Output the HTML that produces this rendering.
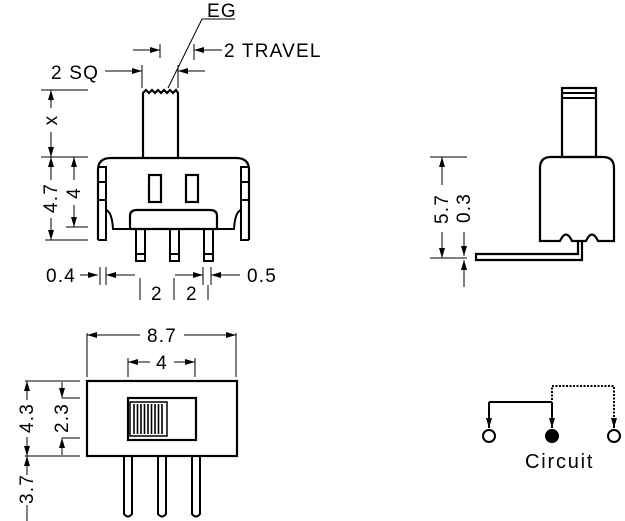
<!DOCTYPE html>
<html><head><meta charset="utf-8"><style>
html,body{margin:0;padding:0;background:#fff;}
svg{display:block;}
text{font-family:"Liberation Sans",sans-serif;fill:#000;}
</style></head><body>
<svg width="625" height="521" viewBox="0 0 625 521" xmlns="http://www.w3.org/2000/svg">
<defs>
<marker id="a" viewBox="0 0 10 6" refX="10" refY="3" markerWidth="10" markerHeight="6" orient="auto" markerUnits="userSpaceOnUse"><path d="M0,0 L10,3 L0,6 z" fill="#000"/></marker>
</defs>
<g stroke="#000" fill="none">
<path d="M235,19 H202 L168,88" stroke-width="1"/>
<g stroke-width="1">
<line x1="133" y1="50" x2="160" y2="50" marker-end="url(#a)"/>
<line x1="160" y1="44" x2="160" y2="58"/>
<line x1="194" y1="44" x2="194" y2="60"/>
<line x1="222" y1="50" x2="194" y2="50" marker-end="url(#a)"/>
<line x1="105" y1="71" x2="142" y2="71" marker-end="url(#a)"/>
<line x1="142" y1="65" x2="142" y2="88"/>
<line x1="178" y1="65" x2="178" y2="88"/>
<line x1="205" y1="71" x2="178" y2="71" marker-end="url(#a)"/>
</g>
<path d="M143,157 V93 L146,90 L149,93 L152,90 L155,93 L158,90 L161,93 L164,90 L167,93 L170,90 L173,93 L176,90 L178,93 V157" stroke-width="2.2"/>
<path d="M98,240 V170 Q98,158 111,158 H236 Q249,158 249,170 V240" stroke-width="2.2"/>
<path d="M98,240 H106 V167 H98 M106,182 H98 M106,200 H98" stroke-width="2"/>
<path d="M249,240 H241 V167 H249 M241,182 H249 M241,200 H249" stroke-width="2"/>
<path d="M106,210 Q112,212 113,229 H130 M241,210 Q235,212 234,229 H217" stroke-width="2"/>
<path d="M130,229 V216 Q130,210 137,210 H210 Q217,210 217,216 V229 Z" stroke-width="2.2"/>
<rect x="149" y="175" width="12" height="27" stroke-width="2.2"/>
<rect x="186" y="175" width="12" height="27" stroke-width="2.2"/>
<g stroke-width="2">
<rect x="136" y="229" width="9" height="32"/><line x1="136" y1="254" x2="145" y2="254"/>
<rect x="170" y="229" width="9" height="32"/><line x1="170" y1="254" x2="179" y2="254"/>
<rect x="204" y="229" width="9" height="32"/><line x1="204" y1="254" x2="213" y2="254"/>
</g>
<g stroke-width="1">
<line x1="41" y1="90" x2="88" y2="90"/>
<line x1="41" y1="157" x2="88" y2="157"/>
<line x1="45" y1="240" x2="88" y2="240"/>
<line x1="66" y1="227" x2="88" y2="227"/>
<line x1="51" y1="108" x2="51" y2="90" marker-end="url(#a)"/>
<line x1="51" y1="132" x2="51" y2="157" marker-end="url(#a)"/>
<line x1="51" y1="180" x2="51" y2="157" marker-end="url(#a)"/>
<line x1="51" y1="218" x2="51" y2="240" marker-end="url(#a)"/>
<line x1="74" y1="180" x2="74" y2="157" marker-end="url(#a)"/>
<line x1="74" y1="205" x2="74" y2="227" marker-end="url(#a)"/>
<line x1="80" y1="275" x2="98" y2="275" marker-end="url(#a)"/>
<line x1="100" y1="267" x2="100" y2="285"/>
<line x1="106" y1="267" x2="106" y2="285"/>
<line x1="135" y1="275" x2="106" y2="275" marker-end="url(#a)"/>
<line x1="175" y1="275" x2="203" y2="275" marker-end="url(#a)"/>
<line x1="203" y1="267" x2="203" y2="285"/>
<line x1="211" y1="267" x2="211" y2="285"/>
<line x1="240" y1="275" x2="211" y2="275" marker-end="url(#a)"/>
<line x1="140" y1="278" x2="140" y2="300"/>
<line x1="174" y1="278" x2="174" y2="300"/>
<line x1="208" y1="285" x2="208" y2="300"/>
</g>
<g stroke-width="1">
<line x1="87" y1="333" x2="87" y2="377"/>
<line x1="236" y1="333" x2="236" y2="377"/>
<line x1="140" y1="335" x2="87" y2="335" marker-end="url(#a)"/>
<line x1="184" y1="335" x2="236" y2="335" marker-end="url(#a)"/>
<line x1="128" y1="358" x2="128" y2="377"/>
<line x1="195" y1="358" x2="195" y2="377"/>
<line x1="150" y1="362" x2="128" y2="362" marker-end="url(#a)"/>
<line x1="174" y1="362" x2="195" y2="362" marker-end="url(#a)"/>
<line x1="25" y1="381" x2="80" y2="381"/>
<line x1="25" y1="456" x2="80" y2="456"/>
<line x1="62" y1="398" x2="80" y2="398"/>
<line x1="62" y1="438" x2="80" y2="438"/>
<line x1="27" y1="400" x2="27" y2="381" marker-end="url(#a)"/>
<line x1="27" y1="437" x2="27" y2="456" marker-end="url(#a)"/>
<line x1="62" y1="382" x2="62" y2="398" marker-end="url(#a)"/>
<line x1="62" y1="455" x2="62" y2="438" marker-end="url(#a)"/>
<line x1="27" y1="475" x2="27" y2="456" marker-end="url(#a)"/>
<line x1="27" y1="505" x2="27" y2="521"/>
</g>
<rect x="87" y="381" width="150" height="75" stroke-width="2.2"/>
<rect x="128" y="398" width="68" height="42" stroke-width="2.2"/>
<rect x="130" y="402" width="37" height="34" stroke-width="1.5"/>
<g stroke-width="1.6">
<line x1="134" y1="404" x2="134" y2="434"/><line x1="137.5" y1="404" x2="137.5" y2="434"/><line x1="141" y1="404" x2="141" y2="434"/><line x1="144.5" y1="404" x2="144.5" y2="434"/><line x1="148" y1="404" x2="148" y2="434"/><line x1="151.5" y1="404" x2="151.5" y2="434"/><line x1="155" y1="404" x2="155" y2="434"/><line x1="158.5" y1="404" x2="158.5" y2="434"/><line x1="162" y1="404" x2="162" y2="434"/>
</g>
<g stroke-width="2">
<path d="M124,456 V514 Q128,519 132,514 V456"/>
<path d="M158,456 V514 Q162,519 166,514 V456"/>
<path d="M192,456 V514 Q196,519 200,514 V456"/>
</g>
<rect x="562" y="88" width="34" height="69" stroke-width="2.2"/>
<line x1="562" y1="93" x2="596" y2="93" stroke-width="2"/>
<line x1="562" y1="98" x2="596" y2="98" stroke-width="2"/>
<path d="M540,241 V168 Q540,157 551,157 H603 Q614,157 614,168 V241 H598 Q592,228 586,241 H572 Q566,228 560,241 Z" stroke-width="2.2"/>
<path d="M578,241 V254 H476 V260 H582 V241" stroke-width="2.2"/>
<g stroke-width="1">
<line x1="430" y1="157" x2="467" y2="157"/>
<line x1="430" y1="258" x2="467" y2="258"/>
<line x1="442" y1="185" x2="442" y2="157" marker-end="url(#a)"/>
<line x1="442" y1="232" x2="442" y2="258" marker-end="url(#a)"/>
<line x1="464" y1="232" x2="464" y2="256" marker-end="url(#a)"/>
<line x1="464" y1="287" x2="464" y2="260" marker-end="url(#a)"/>
</g>
<g stroke-width="2">
<path d="M489,402 H552"/>
<line x1="489" y1="402" x2="489" y2="428" marker-end="url(#a)"/>
<line x1="552" y1="402" x2="552" y2="428" marker-end="url(#a)"/>
<path d="M552,400 V386 H614 V420" stroke-dasharray="2,1.5"/>
<line x1="614" y1="418" x2="614" y2="428" marker-end="url(#a)"/>
<circle cx="489" cy="436" r="6"/>
<circle cx="552" cy="436" r="6" fill="#000"/>
<circle cx="614" cy="436" r="6"/>
</g>
</g>
<g font-size="19" letter-spacing="1.2">
<text x="207" y="17">EG</text>
<text x="224" y="57">2 TRAVEL</text>
<text x="51" y="79">2 SQ</text>
<text x="46" y="282">0.4</text>
<text x="247" y="282">0.5</text>
<text x="151" y="300">2</text>
<text x="186" y="300">2</text>
<text x="162" y="342" text-anchor="middle">8.7</text>
<text x="162" y="369" text-anchor="middle">4</text>
<text x="525" y="468" font-size="20" letter-spacing="1.8">Circuit</text>
<text transform="translate(57,120) rotate(-90)" text-anchor="middle">x</text>
<text transform="translate(57,198) rotate(-90)" text-anchor="middle">4.7</text>
<text transform="translate(80,193) rotate(-90)" text-anchor="middle">4</text>
<text transform="translate(33,418) rotate(-90)" text-anchor="middle">4.3</text>
<text transform="translate(68,418) rotate(-90)" text-anchor="middle">2.3</text>
<text transform="translate(33,489) rotate(-90)" text-anchor="middle">3.7</text>
<text transform="translate(448,209) rotate(-90)" text-anchor="middle">5.7</text>
<text transform="translate(470,208) rotate(-90)" text-anchor="middle">0.3</text>
</g>
</svg>
</body></html>
